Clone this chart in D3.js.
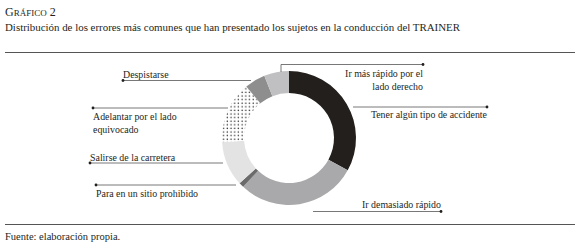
<!DOCTYPE html>
<html>
<head>
<meta charset="utf-8">
<script src="https://cdn.jsdelivr.net/npm/d3@7"></script>
<style>
  body { margin: 0; background: #fff; }
  text { font-family: "Liberation Serif", "DejaVu Serif", serif; fill: #231f1c; }
</style>
</head>
<body>
<div id="chart"></div>
<script>
// data (percent of errors)
const categories = [
  "Tener algún tipo de accidente",
  "Ir demasiado rápido",
  "Para en un sitio prohibido",
  "Salirse de la carretera",
  "Adelantar por el lado equivocado",
  "Despistarse",
  "Ir más rápido por el lado derecho"
];
const values = [33, 29, 1.2, 10.8, 15, 5, 6];
const fills = ["#231f1c", "#a9a9ab", "#6b6b6b", "#e3e3e4", "url(#dots)", "#8e8e8e", "#c0c0c2"];

const svgWidth = 580, svgHeight = 251;
const cx = 289, cy = 138, rOuter = 67, rInner = 45;

const svg = d3.select("#chart").append("svg")
  .attr("width", svgWidth)
  .attr("height", svgHeight);

// dotted fill for the "adelantar" slice
const pat = svg.append("defs").append("pattern")
  .attr("id", "dots")
  .attr("patternUnits", "userSpaceOnUse")
  .attr("width", 3.7).attr("height", 3.6);
pat.append("rect").attr("width", 3.7).attr("height", 3.6).attr("fill", "#fff");
pat.append("circle").attr("cx", 1.2).attr("cy", 1.2).attr("r", 0.75).attr("fill", "#222");

// titles
const title = svg.append("text").attr("x", 5).attr("y", 16).style("font-size", "12px");
title.append("tspan").text("G");
title.append("tspan").style("font-size", "9px").text("RÁFICO");
title.append("tspan").text(" 2");
svg.append("text").attr("x", 5).attr("y", 31).style("font-size", "10.9px")
  .text("Distribución de los errores más comunes que han presentado los sujetos en la conducción del TRAINER");

svg.append("line").attr("x1", 5).attr("x2", 575).attr("y1", 52.5).attr("y2", 52.5)
  .attr("stroke", "#555").attr("stroke-width", 1);
svg.append("line").attr("x1", 5).attr("x2", 575).attr("y1", 224.5).attr("y2", 224.5)
  .attr("stroke", "#555").attr("stroke-width", 1);
svg.append("text").attr("x", 5).attr("y", 240).style("font-size", "10.5px")
  .text("Fuente: elaboración propia.");

// donut
const pie = d3.pie().sort(null).value(d => d.v);
const arc = d3.arc().innerRadius(rInner).outerRadius(rOuter);
const slices = pie(categories.map((c, i) => ({ c: c, v: values[i], f: fills[i] })));

const g = svg.append("g").attr("transform", `translate(${cx},${cy})`);
g.selectAll("path").data(slices).enter().append("path")
  .attr("d", arc)
  .attr("fill", d => d.data.f);

// leader lines: anchor on the ring, end point, label side
const labelLayout = [
  { y: 107, x0: 353, x1: 487, side: "right", lines: ["Tener algún tipo de accidente"], ty: 118 },
  { y: 211.5, x0: 313, x1: 441, side: "right", lines: ["Ir demasiado rápido"], ty: 208 },
  { y: 185, x0: 236, x1: 96, side: "left", lines: ["Para en un sitio prohibido"], ty: 197 },
  { y: 163, x0: 223, x1: 90, side: "left", lines: ["Salirse de la carretera"], ty: 161 },
  { y: 108, x0: 228, x1: 93, side: "left", lines: ["Adelantar por el lado", "equivocado"], ty: 120 },
  { y: 80.5, x0: 251, x1: 123, side: "left", lines: ["Despistarse"], ty: 78 },
  { y: 64.5, x0: 281, x1: 423, side: "right", lines: ["Ir más rápido por el", "lado derecho"], ty: 77, drop: 72 }
];

const lab = svg.append("g");
labelLayout.forEach(l => {
  lab.append("line")
    .attr("x1", l.x0).attr("x2", l.x1).attr("y1", l.y).attr("y2", l.y)
    .attr("stroke", "#555").attr("stroke-width", 0.8);
  if (l.drop) {
    lab.append("line")
      .attr("x1", l.x0).attr("x2", l.x0).attr("y1", l.y).attr("y2", l.drop)
      .attr("stroke", "#555").attr("stroke-width", 0.8);
  }
  lab.append("circle").attr("cx", l.x1).attr("cy", l.y).attr("r", 1.4).attr("fill", "#231f1c");
  const t = lab.append("text")
    .attr("text-anchor", l.side === "right" ? "end" : "start")
    .style("font-size", "9.9px");
  l.lines.forEach((s, i) => {
    t.append("tspan").attr("x", l.x1).attr("y", l.ty + i * 12.5).text(s);
  });
});
</script>
</body>
</html>
